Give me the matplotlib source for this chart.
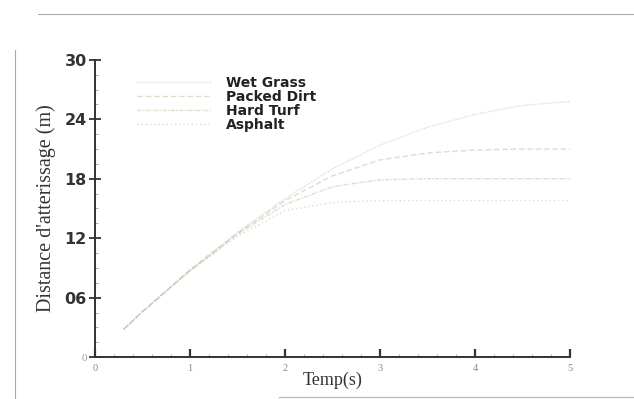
import numpy as np
import matplotlib.pyplot as plt
from matplotlib.lines import Line2D

# temps (s) et distance d'atterrissage (m)
temps = [0.3, 0.5, 1.0, 1.5, 2.0, 2.5, 3.0, 3.5, 4.0, 4.5, 5.0]
wet_grass = [2.8, 4.6, 8.8, 12.6, 16.0, 19.0, 21.4, 23.2, 24.5, 25.4, 25.8]
packed_dirt = [2.8, 4.6, 8.8, 12.5, 15.8, 18.3, 19.9, 20.6, 20.9, 21.0, 21.0]
hard_turf = [2.8, 4.6, 8.7, 12.4, 15.4, 17.2, 17.9, 18.0, 18.0, 18.0, 18.0]
asphalt = [2.8, 4.6, 8.7, 12.2, 14.8, 15.6, 15.8, 15.8, 15.8, 15.8, 15.8]

noms = ['Wet Grass', 'Packed Dirt', 'Hard Turf', 'Asphalt']
series = [wet_grass, packed_dirt, hard_turf, asphalt]
styles = [(0, (1, 1)), (0, (4, 2)), (0, (3, 1, 1, 1)), (0, (1, 2))]

yticks = [0, 6, 12, 18, 24, 30]
ylabels = ['0', '06', '12', '18', '24', '30']
xticks = [0, 1, 2, 3, 4, 5]

fig = plt.figure(figsize=(6.34, 3.99), dpi=100)
ax = fig.add_axes([0.150, 0.105, 0.749, 0.745])

for nom, y, ls in zip(noms, series, styles):
    ax.plot(temps, y, color='#c4b8a4', lw=1.0, ls=ls, alpha=0.5, label=nom)

ax.set_xlim(0, 5)
ax.set_ylim(0, 30)
ax.spines['top'].set_visible(False)
ax.spines['right'].set_visible(False)
ax.spines['left'].set_linewidth(1.4)
ax.spines['bottom'].set_linewidth(1.4)
ax.spines['left'].set_color('#333333')
ax.spines['bottom'].set_color('#333333')

ax.set_yticks(yticks)
ax.set_yticklabels(ylabels)
ax.set_xticks(xticks)
ax.set_xticks(np.arange(0, 5.01, 0.2), minor=True)
ax.set_yticks(np.arange(0, 30.01, 1.5), minor=True)
ax.tick_params(axis='y', which='major', direction='inout', length=8, width=1.3,
               color='#333333', pad=2, labelsize=11.5)
ax.tick_params(axis='x', which='major', direction='in', length=6, width=1.6,
               color='#333333', pad=5, labelsize=7.5, labelcolor='#888888')
ax.tick_params(which='minor', direction='in', length=2, width=0.7, color='#aaaaaa')
for lab in ax.get_yticklabels():
    lab.set_fontweight('bold')
    lab.set_color('#333333')
ylab0 = ax.get_yticklabels()[0]
ylab0.set_fontweight('normal')
ylab0.set_fontsize(8)
ylab0.set_color('#999999')
ylab0.set_family('Liberation Serif')
for lab in ax.get_xticklabels():
    lab.set_family('Liberation Serif')

ax.set_xlabel('Temp(s)', family='Liberation Serif', fontsize=13, color='#333333', labelpad=-1)
ax.set_ylabel("Distance d'atterissage (m)", family='Liberation Serif', fontsize=14.5,
              color='#333333', labelpad=6)

leg = ax.legend(loc='upper left', bbox_to_anchor=(0.088, 0.945), frameon=False,
                handlelength=5.4, handletextpad=1.0, labelspacing=0.0,
                borderpad=0, borderaxespad=0,
                prop={'weight': 'bold', 'size': 10, 'family': 'DejaVu Sans'})
for t in leg.get_texts():
    t.set_color('#222222')

# bords de la page scannee
fig.add_artist(Line2D([0.06, 1.0], [0.965, 0.965], color='#aaaaaa', lw=0.8))
fig.add_artist(Line2D([0.024, 0.024], [0.0, 0.875], color='#aaaaaa', lw=0.8))
fig.add_artist(Line2D([0.44, 1.0], [0.006, 0.006], color='#bbbbbb', lw=1.0))

fig.savefig('out.png', dpi=100)
